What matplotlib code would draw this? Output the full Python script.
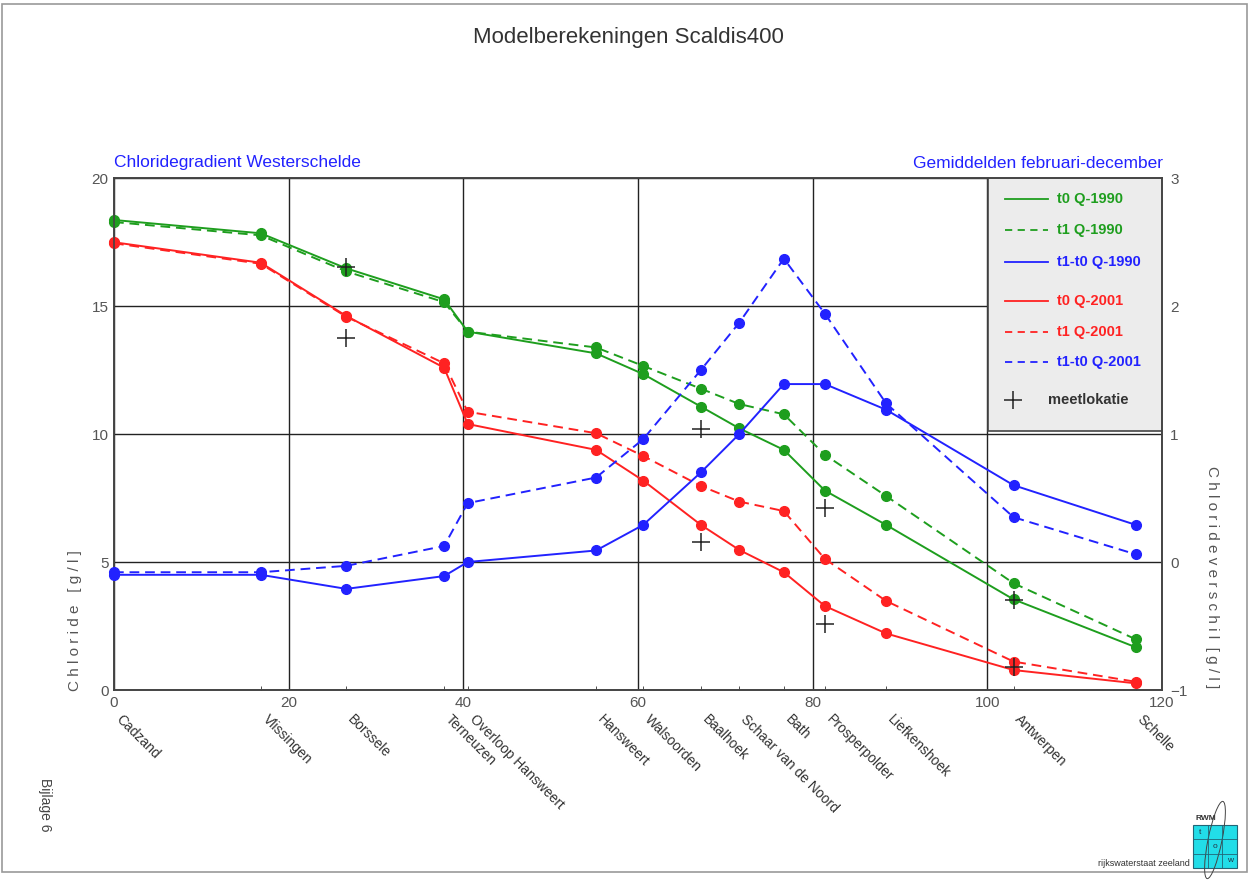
import matplotlib
matplotlib.use("Agg")
import matplotlib.pyplot as plt
from matplotlib.patches import Rectangle, Ellipse
from matplotlib.lines import Line2D

plt.rcParams['font.family'] = ['Liberation Sans', 'DejaVu Sans']

# meetstations langs de Westerschelde (km vanaf Cadzand)
stations = ['Cadzand', 'Vlissingen', 'Borssele', 'Terneuzen', 'Overloop Hansweert',
            'Hansweert', 'Walsoorden', 'Baalhoek', 'Schaar van de Noord', 'Bath',
            'Prosperpolder', 'Liefkenshoek', 'Antwerpen', 'Schelle']
km = [0, 16.8, 26.6, 37.8, 40.5, 55.2, 60.6, 67.2, 71.6, 76.7, 81.4, 88.4, 103, 117]

# chloride [g/l]
t0_1990 = [18.36, 17.84, 16.47, 15.26, 14.0, 13.15, 12.34, 11.07, 10.22, 9.38, 7.79, 6.45, 3.54, 1.67]
t1_1990 = [18.28, 17.76, 16.35, 15.15, 14.0, 13.38, 12.66, 11.77, 11.17, 10.77, 9.19, 7.58, 4.17, 1.98]
t0_2001 = [17.49, 16.69, 14.61, 12.59, 10.39, 9.38, 8.18, 6.45, 5.47, 4.6, 3.28, 2.21, 0.78, 0.26]
t1_2001 = [17.45, 16.65, 14.58, 12.76, 10.87, 10.03, 9.14, 7.97, 7.36, 6.99, 5.12, 3.48, 1.11, 0.32]

# verschil t1-t0 [g/l]
d_1990 = [-0.10, -0.10, -0.21, -0.11, 0.0, 0.09, 0.29, 0.70, 1.0, 1.39, 1.39, 1.19, 0.60, 0.29]
d_2001 = [-0.08, -0.08, -0.03, 0.125, 0.46, 0.66, 0.96, 1.5, 1.87, 2.37, 1.94, 1.24, 0.35, 0.06]

# metingen
meet_km = [26.6, 26.6, 67.2, 67.2, 81.4, 81.4, 103, 103]
meet_cl = [16.54, 13.76, 10.2, 5.77, 7.12, 2.57, 3.52, 0.91]

groen = '#1e9e1e'
rood = '#ff2222'
blauw = '#2222ff'

fig = plt.figure(figsize=(12.56, 8.82), dpi=100)
ax = fig.add_axes([114/1256, 1-690/882, (1162-114)/1256, (690-178)/882])
ax2 = ax.twinx()

dash = (0, (5, 3))
stijl = dict(lw=1.4, marker='o', ms=7, zorder=3, clip_on=False)
ax.plot(km, t0_1990, '-', color=groen, **stijl)
ax.plot(km, t1_1990, linestyle=dash, color=groen, **stijl)
ax.plot(km, t0_2001, '-', color=rood, **stijl)
ax.plot(km, t1_2001, linestyle=dash, color=rood, **stijl)
ax.plot(meet_km, meet_cl, '+', color='#222222', ms=13, mew=1.1, zorder=4)

ax2.plot(km, d_1990, '-', color=blauw, **stijl)
ax2.plot(km, d_2001, linestyle=dash, color=blauw, **stijl)

ax.set_xlim(0, 120)
ax.set_ylim(0, 20)
ax2.set_ylim(-1, 3)
ax.set_xticks([0, 20, 40, 60, 80, 100, 120])
ax.set_yticks([0, 5, 10, 15, 20])
ax2.set_yticks([-1, 0, 1, 2, 3])
ax.set_xticks(km, minor=True)
ax.tick_params(axis='x', which='minor', direction='in', length=3, color='#333333')
ax.tick_params(axis='both', which='major', direction='in', length=0,
               labelsize=11, labelcolor='#555555', pad=4)
ax2.tick_params(axis='y', direction='in', length=0, labelsize=11, labelcolor='#555555', pad=6)
ax.grid(True, which='major', color='#222222', lw=1.0)
for a in (ax, ax2):
    for s in a.spines.values():
        s.set_color('#444444')
        s.set_linewidth(1.2)

ax.set_ylabel('C h l o r i d e   [ g / l ]', fontsize=11, color='#555555')
ax.yaxis.set_label_coords(-0.031, 0.135)
ax2.set_ylabel('C h l o r i d e v e r s c h i l  [ g / l ]', fontsize=11, color='#555555',
               rotation=-90, va='center')
ax2.yaxis.set_label_coords(1.048, 0.22)

# stationsnamen schuin onder de as
for naam, x in zip(stations, km):
    ax.text(x + 1.0, -0.85, naam, rotation=-45, rotation_mode='anchor',
            ha='left', va='top', fontsize=10, color='#333333', transform=ax.transData)

fig.text(628/1256, 1-38/882, 'Modelberekeningen Scaldis400', ha='center', va='center',
         fontsize=16, color='#333333')
fig.text(114/1256, 1-163/882, 'Chloridegradient Westerschelde', ha='left', va='center',
         fontsize=12.5, color=blauw)
fig.text(1163/1256, 1-163/882, 'Gemiddelden februari-december', ha='right', va='center',
         fontsize=12.5, color=blauw)

# legenda
lx0, lx1 = (988-114)/1048, 1.0
ly0 = (690-431)/512
ax.add_patch(Rectangle((lx0, ly0), lx1-lx0, 1-ly0, transform=ax.transAxes,
                       facecolor='#ececec', edgecolor='#444444', lw=1.2, zorder=5))
items = [('t0 Q-1990', groen, '-', 199), ('t1 Q-1990', groen, '--', 230),
         ('t1-t0 Q-1990', blauw, '-', 262), ('t0 Q-2001', rood, '-', 301),
         ('t1 Q-2001', rood, '--', 332), ('t1-t0 Q-2001', blauw, '--', 362)]
for lab, c, ls, py in items:
    yy = (690-py)/512
    ax.add_line(Line2D([(1005-114)/1048, (1048-114)/1048], [yy, yy], transform=ax.transAxes,
                       color=c, lw=1.3, linestyle=ls, dashes=(4, 3) if ls == '--' else (None, None),
                       zorder=6))
    ax.text((1057-114)/1048, yy, lab, transform=ax.transAxes, color=c, fontsize=10.5,
            fontweight='bold', va='center', ha='left', zorder=6)
yy = (690-400)/512
ax.plot([(1013-114)/1048], [yy], '+', transform=ax.transAxes, color='#222222', ms=13,
        mew=1.1, zorder=6, clip_on=False)
ax.text((1048-114)/1048, yy, 'meetlokatie', transform=ax.transAxes, color='#333333',
        fontsize=10.5, fontweight='bold', va='center', ha='left', zorder=6)

# kader om de pagina
fig.add_artist(Rectangle((2/1256, 1-872/882), 1245/1256, 868/882, transform=fig.transFigure,
                         fill=False, edgecolor='#999999', lw=1.2))

fig.text(45/1256, 1-805/882, 'Bijlage 6', rotation=-90, ha='center', va='center',
         fontsize=10, color='#444444')

# logo rijkswaterstaat
bx, by, bw, bh = 1193/1256, 1-868/882, 44/1256, 43/882
fig.add_artist(Rectangle((bx, by), bw, bh, transform=fig.transFigure,
                         facecolor='#22dde8', edgecolor='#226677', lw=0.8))
for i in (1, 2):
    fig.add_artist(Line2D([bx + i*bw/3]*2, [by, by+bh], transform=fig.transFigure,
                          color='#226677', lw=0.6))
    fig.add_artist(Line2D([bx, bx+bw], [by + i*bh/3]*2, transform=fig.transFigure,
                          color='#226677', lw=0.6))
fig.add_artist(Ellipse((1215/1256, 1-840/882), 14/1256, 78/882, angle=-8,
                       transform=fig.transFigure, fill=False, edgecolor='#444444', lw=0.7))
fig.text(bx + bw/6, by + 5*bh/6, 't', fontsize=6, ha='center', va='center', color='#223344')
fig.text(bx + bw/2, by + bh/2, 'o', fontsize=6, ha='center', va='center', color='#223344')
fig.text(bx + 5*bw/6, by + bh/6, 'w', fontsize=6, ha='center', va='center', color='#223344')
fig.text(1195/1256, 1-819/882, 'RWM', fontsize=6, ha='left', va='center',
         color='#333333', fontweight='bold')
fig.text(1190/1256, 1-863/882, 'rijkswaterstaat zeeland', fontsize=6.5, ha='right',
         va='center', color='#333333')

fig.savefig('out.png', dpi=100)
